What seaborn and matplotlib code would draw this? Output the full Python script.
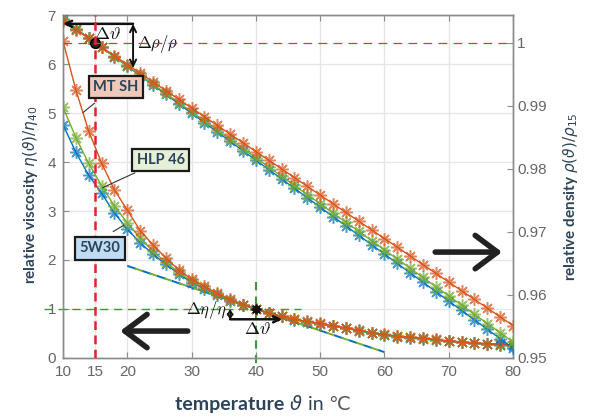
import numpy as np
import seaborn as sns
import matplotlib.pyplot as plt
from matplotlib.colors import to_rgba

# =============================================================================
# Data
# =============================================================================

temps = list(range(10, 81, 2))

visc_mtsh = [6.47, 5.47, 4.63, 3.98, 3.43, 3.02, 2.60, 2.31, 2.04, 1.80,
             1.61, 1.46, 1.32, 1.20, 1.09, 1.00, 0.92, 0.85, 0.79, 0.75,
             0.71, 0.66, 0.62, 0.57, 0.52, 0.48, 0.45, 0.43, 0.41, 0.38,
             0.35, 0.33, 0.31, 0.295, 0.28, 0.265]
visc_hlp46 = [5.12, 4.50, 3.97, 3.52, 3.10, 2.76, 2.45, 2.18, 1.95, 1.75,
              1.57, 1.43, 1.30, 1.18, 1.08, 1.00, 0.92, 0.85, 0.79, 0.74,
              0.70, 0.65, 0.61, 0.56, 0.51, 0.47, 0.44, 0.42, 0.40, 0.37,
              0.345, 0.325, 0.305, 0.29, 0.275, 0.26]
visc_5w30 = [4.76, 4.20, 3.73, 3.36, 2.96, 2.63, 2.35, 2.12, 1.91, 1.72,
             1.54, 1.41, 1.29, 1.17, 1.08, 1.00, 0.92, 0.85, 0.785, 0.735,
             0.695, 0.645, 0.605, 0.555, 0.505, 0.465, 0.435, 0.415, 0.395, 0.365,
             0.34, 0.32, 0.30, 0.285, 0.27, 0.255]

dens_mtsh = [1.00345, 1.00207, 1.00069, 0.99931, 0.99793, 0.99655, 0.99517, 0.99379,
             0.99241, 0.99103, 0.98965, 0.98827, 0.98689, 0.98551, 0.98413, 0.98275,
             0.98137, 0.97999, 0.97861, 0.97723, 0.97585, 0.97447, 0.97309, 0.97171,
             0.97033, 0.96895, 0.96757, 0.96619, 0.96481, 0.96343, 0.96205, 0.96067,
             0.95929, 0.95791, 0.95653, 0.95515]
dens_hlp46 = [1.00365, 1.00219, 1.00073, 0.99927, 0.99781, 0.99635, 0.99489, 0.99343,
              0.99197, 0.99051, 0.98905, 0.98759, 0.98613, 0.98467, 0.98321, 0.98175,
              0.98029, 0.97883, 0.97737, 0.97591, 0.97445, 0.97299, 0.97153, 0.97007,
              0.96861, 0.96715, 0.96569, 0.96423, 0.96277, 0.96131, 0.95985, 0.95839,
              0.95693, 0.95547, 0.95401, 0.95255]
dens_5w30 = [1.00373, 1.00224, 1.00075, 0.99926, 0.99777, 0.99628, 0.99479, 0.99330,
             0.99181, 0.99032, 0.98883, 0.98734, 0.98585, 0.98436, 0.98287, 0.98138,
             0.97989, 0.97840, 0.97691, 0.97542, 0.97393, 0.97244, 0.97095, 0.96946,
             0.96797, 0.96648, 0.96499, 0.96350, 0.96201, 0.96052, 0.95903, 0.95754,
             0.95605, 0.95456, 0.95307, 0.95158]

tangent_temps = [20, 60]
tangent_visc = [1.88, 0.12]

ref_temp_dens = 15
ref_temp_visc = 40

oils = ["5W30", "HLP 46", "MT SH"]
visc = {"MT SH": visc_mtsh, "HLP 46": visc_hlp46, "5W30": visc_5w30}
dens = {"MT SH": dens_mtsh, "HLP 46": dens_hlp46, "5W30": dens_5w30}

xticks = [10, 15, 20, 30, 40, 50, 60, 70, 80]
yticks_left = [0, 1, 2, 3, 4, 5, 6, 7]
yticks_right = [0.95, 0.96, 0.97, 0.98, 0.99, 1.0]
yticklabels_right = ["0.95", "0.96", "0.97", "0.98", "0.99", "1"]

# =============================================================================
# Style
# =============================================================================

colors = {"MT SH": "#D95319", "HLP 46": "#77AC30", "5W30": "#0072BD"}
box_fill = {"MT SH": "#F0C8B9", "HLP 46": "#E6F0D9", "5W30": "#BEDCF3"}
label_col = "#2D4358"
tick_col = "#666666"
spine_col = "#8C8C8C"

plt.rcParams["font.family"] = ["Liberation Sans", "DejaVu Sans"]
plt.rcParams["mathtext.fontset"] = "dejavusans"

star = (8, 2, 0)

fig = plt.figure(figsize=(5.91, 4.17), dpi=100)
ax = fig.add_axes([0.1066, 0.1415, 0.7614, 0.8225])
ax2 = ax.twinx()

# =============================================================================
# Curves
# =============================================================================

for oil in oils:
    c = colors[oil]
    sns.lineplot(x=temps, y=visc[oil], ax=ax, color=c, linewidth=1.0,
                 marker=star, markersize=9, markeredgewidth=1.1,
                 markeredgecolor=to_rgba(c, 0.7), zorder=3)
    sns.lineplot(x=temps, y=dens[oil], ax=ax2, color=c, linewidth=1.0,
                 marker=star, markersize=9, markeredgewidth=1.1,
                 markeredgecolor=to_rgba(c, 0.7), zorder=3)

# tangent at 40 C
ax.plot(tangent_temps, tangent_visc, color=colors["5W30"], lw=1.4,
        linestyle=(0, (5, 3)), zorder=2)
ax.plot(tangent_temps, tangent_visc, color=colors["HLP 46"], lw=1.4,
        linestyle=(4, (4, 4)), zorder=2)

# =============================================================================
# Axes formatting
# =============================================================================

ax.set_xlim(10, 80)
ax.set_ylim(0, 7)
ax2.set_ylim(0.95, 1.0044)
ax.set_xticks(xticks)
ax.set_yticks(yticks_left)
ax2.set_yticks(yticks_right)
ax2.set_yticklabels(yticklabels_right)
ax.set_xlabel("")
ax.set_ylabel("")
ax2.set_ylabel("")

ax.grid(color="#E6E6E6", linewidth=1.0)
ax.set_axisbelow(True)

for a in (ax, ax2):
    a.tick_params(direction="in", length=4, width=0.8, color=spine_col,
                  labelcolor=tick_col, labelsize=11)
    for s in a.spines.values():
        s.set_color(spine_col)
        s.set_linewidth(1.0)
ax.tick_params(top=True, pad=5)
ax2.tick_params(pad=3)

# =============================================================================
# Reference lines and markers
# =============================================================================

ax.plot([7, 47], [1, 1], color="#3C9A3C", lw=1.0, linestyle=(0, (6, 4)),
        clip_on=False, zorder=2)
ax.plot([ref_temp_visc, ref_temp_visc], [1.55, -0.15], color="#3C9A3C", lw=1.5,
        linestyle=(0, (4, 3)), clip_on=False, zorder=2)
ax.plot([ref_temp_visc], [1], marker="o", color="#111111", markersize=4, zorder=6)
ax.plot([ref_temp_visc], [1], marker=star, color="#111111", markersize=7,
        markeredgewidth=1.3, zorder=6)

ax2.plot([ref_temp_dens], [1.0], marker="o", markerfacecolor="#222222",
         markeredgecolor="black", markersize=7, zorder=4)
ax2.plot([10, 80], [1.0, 1.0], color="#D8383C", lw=0.9, linestyle=(0, (7, 5)),
         zorder=5)
ax2.plot([ref_temp_dens, ref_temp_dens], [0.95, 1.0044], color="#E8202A", lw=1.8,
         linestyle=(0, (3.5, 2.2)), zorder=5)

# =============================================================================
# Annotations
# =============================================================================

ax2.annotate("", xy=(10, 1.0030), xytext=(20.9, 1.0030),
             arrowprops=dict(arrowstyle="->,head_length=0.45,head_width=0.22", lw=1.8,
                             color="#111111", shrinkA=0, shrinkB=0))
ax2.annotate("", xy=(20.9, 0.9960), xytext=(20.9, 1.0030),
             arrowprops=dict(arrowstyle="<->,head_length=0.45,head_width=0.22", lw=1.4,
                             color="#111111", shrinkA=0, shrinkB=0))
ax2.text(17.0, 1.0013, r"$\Delta\vartheta$", fontsize=13, ha="center", va="center",
         math_fontfamily="cm", color="#111111")
ax2.text(21.5, 0.99984, r"$\Delta\rho/\rho$", fontsize=12, ha="left", va="center",
         math_fontfamily="cm", color="#111111")

ax.annotate("", xy=(36, 0.78), xytext=(36, 1.0),
            arrowprops=dict(arrowstyle="<->,head_length=0.25,head_width=0.15", lw=1.2,
                            color="#111111", shrinkA=0, shrinkB=0, mutation_scale=12))
ax.annotate("", xy=(44.1, 0.79), xytext=(36, 0.79),
            arrowprops=dict(arrowstyle="->,head_length=0.45,head_width=0.22", lw=1.8,
                            color="#111111", shrinkA=0, shrinkB=0))
ax.text(35.5, 0.98, r"$\Delta\eta/\eta$", fontsize=12, ha="right", va="center",
        math_fontfamily="cm", color="#111111")
ax.text(40.2, 0.58, r"$\Delta\vartheta$", fontsize=13, ha="center", va="center",
        math_fontfamily="cm", color="#111111")

big = dict(arrowstyle="->,head_length=0.8,head_width=0.6", lw=4.0, color="#222222",
           shrinkA=0, shrinkB=0, mutation_scale=20)
ax.annotate("", xy=(18.9, 0.55), xytext=(29.4, 0.55), arrowprops=big)
ax2.annotate("", xy=(78.3, 0.9668), xytext=(67.9, 0.9668), arrowprops=big)

# oil name boxes with leader lines
box_pos = {"MT SH": (18.2, 5.53), "HLP 46": (25.2, 4.04), "5W30": (15.75, 2.24)}
leader_from = {"MT SH": (14.9, 5.20), "HLP 46": (21.2, 3.78), "5W30": (17.8, 2.58)}
leader_temp = {"MT SH": 13.1, "HLP 46": 16.2, "5W30": 19.5}

for oil in ["MT SH", "HLP 46", "5W30"]:
    t = leader_temp[oil]
    ax2.annotate("", xy=(t, np.interp(t, temps, visc[oil])), xycoords=ax.transData,
                 xytext=leader_from[oil], textcoords=ax.transData,
                 arrowprops=dict(arrowstyle="-", color="#333333", lw=0.8,
                                 shrinkA=0, shrinkB=0), zorder=7)
    ax2.text(*box_pos[oil], oil, transform=ax.transData, ha="center", va="center",
             fontsize=10.5, fontweight="bold", color=label_col, family="Lato",
             zorder=8,
             bbox=dict(boxstyle="square,pad=0.3", facecolor=box_fill[oil],
                       edgecolor="#1A1A1A", linewidth=1.6))

# =============================================================================
# Axis labels
# =============================================================================

fig.text(31 / 591, 1 - 195 / 417, r"relative viscosity $\eta(\vartheta)/\eta_{40}$",
         rotation=90, ha="center", va="center", fontsize=11, fontweight="bold",
         color=label_col, family="Lato")
fig.text(570 / 591, 1 - 197 / 417, r"relative density $\rho(\vartheta)/\rho_{15}$",
         rotation=90, ha="center", va="center", fontsize=11, fontweight="bold",
         color=label_col, family="Lato")

# x label: bold word, italic symbol, regular unit, laid out piece by piece
base_y = 1 - 410 / 417
pieces = [
    ("temperature ", dict(fontweight="bold", color=label_col, family="Lato", fontsize=14)),
    (r"$\vartheta$", dict(color=label_col, family="Lato", fontsize=14)),
    (" in ", dict(color=label_col, family="Lato", fontsize=14)),
    ("\u2103", dict(color="#555555", family=["DejaVu Sans"], fontsize=14)),
]
renderer = fig.canvas.get_renderer()
x_pos = 175 / 591
for txt, props in pieces:
    t = fig.text(x_pos, base_y, txt, ha="left", va="baseline", **props)
    bb = t.get_window_extent(renderer)
    x_pos = bb.x1 / fig.bbox.width

fig.savefig("out.png", dpi=100)
